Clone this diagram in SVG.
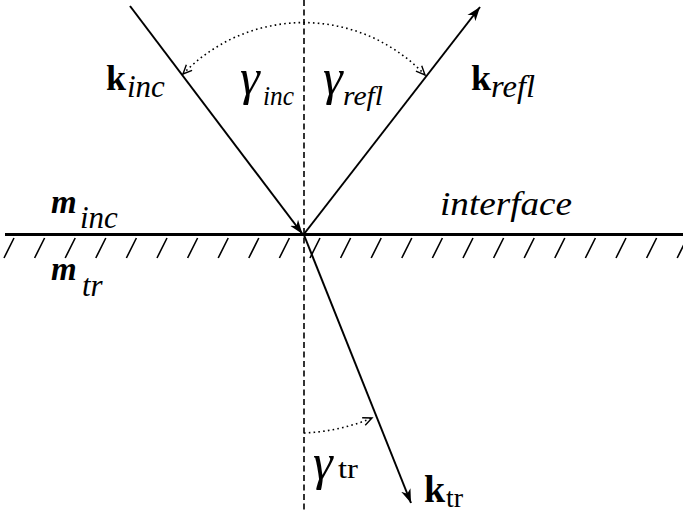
<svg xmlns="http://www.w3.org/2000/svg" width="683" height="513" viewBox="0 0 683 513">
<defs>
<style>
.ray{stroke:#000;stroke-width:2;fill:none}
.dot{stroke:#000;stroke-width:1.6;fill:none;stroke-dasharray:1.6 3.2}
.dash{stroke:#000;stroke-width:1.6;fill:none;stroke-dasharray:6 3.5}
.hatch{stroke:#000;stroke-width:1.6;fill:none}
</style>
<marker id="ah" viewBox="-14 -6 16 12" markerWidth="16" markerHeight="12" refX="0" refY="0" orient="auto" markerUnits="userSpaceOnUse">
<path d="M0,0 L-14,-5 L-10,0 L-14,5 Z" fill="#000"/>
</marker>
<marker id="sa" viewBox="-10 -5 12 10" markerWidth="12" markerHeight="10" refX="0" refY="0" orient="auto-start-reverse" markerUnits="userSpaceOnUse">
<path d="M-9,-4 L0,0 L-9,4" fill="none" stroke="#000" stroke-width="1.4"/>
</marker>
</defs>
<rect width="683" height="513" fill="#fff"/>
<g id="interface">
<line x1="5" y1="234.5" x2="683" y2="234.5" stroke="#000" stroke-width="3"/>
<path class="hatch" d="M14,238 L4,258 M44.6,238 L34.6,258 M75.2,238 L65.2,258 M105.8,238 L95.8,258 M136.4,238 L126.4,258 M167,238 L157,258 M197.6,238 L187.6,258 M228.2,238 L218.2,258 M258.8,238 L248.8,258 M289.4,238 L279.4,258 M320,238 L310,258 M350.6,238 L340.6,258 M381.2,238 L371.2,258 M411.8,238 L401.8,258 M442.4,238 L432.4,258 M473,238 L463,258 M503.6,238 L493.6,258 M534.2,238 L524.2,258 M564.8,238 L554.8,258 M595.4,238 L585.4,258 M626,238 L616,258 M656.6,238 L646.6,258 M687.2,238 L677.2,258"/>
</g>
<g id="connectors">
<line class="dash" x1="304" y1="0" x2="304" y2="513"/>
<line class="ray" x1="130" y1="6" x2="302.5" y2="234" marker-end="url(#ah)"/>
<line class="ray" x1="304" y1="234" x2="480" y2="7" marker-end="url(#ah)"/>
<line class="ray" x1="304" y1="235" x2="411" y2="503" marker-end="url(#ah)"/>
<path class="dot" d="M183,74 A167,167 0 0 1 425,75" marker-start="url(#sa)" marker-end="url(#sa)"/>
<path class="dot" d="M304,433 A197,197 0 0 0 372,418" marker-end="url(#sa)"/>
</g>
<g id="labels" fill="#000">
<text x="106" y="90" font-family="Liberation Serif" font-weight="bold" font-size="36">k</text>
<text x="127" y="97" font-family="Liberation Serif" font-style="italic" font-size="31">inc</text>
<text x="240" y="94" font-family="Liberation Serif" font-style="italic" font-size="50">γ</text>
<text x="263" y="105" font-family="Liberation Serif" font-style="italic" font-size="28" textLength="31" lengthAdjust="spacingAndGlyphs">inc</text>
<text x="323" y="94" font-family="Liberation Serif" font-style="italic" font-size="50">γ</text>
<text x="343" y="105" font-family="Liberation Serif" font-style="italic" font-size="28" textLength="40" lengthAdjust="spacingAndGlyphs">refl</text>
<text x="471" y="90" font-family="Liberation Serif" font-weight="bold" font-size="36">k</text>
<text x="491" y="97" font-family="Liberation Serif" font-style="italic" font-size="31" textLength="44" lengthAdjust="spacingAndGlyphs">refl</text>
<text x="51" y="213" font-family="Liberation Serif" font-style="italic" font-weight="bold" font-size="33">m</text>
<text x="80" y="228" font-family="Liberation Serif" font-style="italic" font-size="31">inc</text>
<text x="51" y="280" font-family="Liberation Serif" font-style="italic" font-weight="bold" font-size="33">m</text>
<text x="82" y="296" font-family="Liberation Serif" font-style="italic" font-size="31">tr</text>
<text x="440" y="215" font-family="Liberation Serif" font-style="italic" font-size="34" textLength="132" lengthAdjust="spacingAndGlyphs">interface</text>
<text x="313" y="479" font-family="Liberation Serif" font-style="italic" font-size="50">γ</text>
<text x="338" y="478" font-family="Liberation Serif" font-size="27" textLength="20" lengthAdjust="spacingAndGlyphs">tr</text>
<text x="424" y="502" font-family="Liberation Serif" font-weight="bold" font-size="38">k</text>
<text x="446" y="507" font-family="Liberation Serif" font-size="28">tr</text>
</g>
</svg>
